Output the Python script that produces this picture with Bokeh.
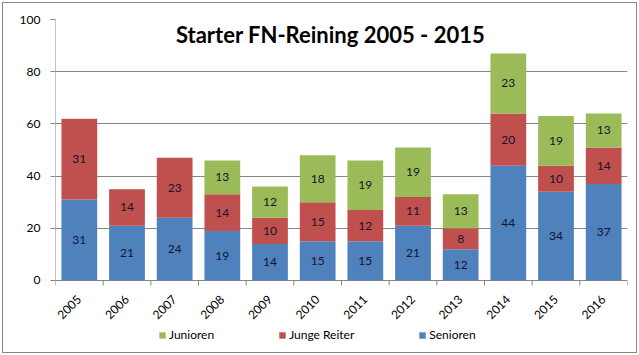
import math
from bokeh.plotting import figure
from bokeh.models import (ColumnDataSource, FactorRange, Range1d, FixedTicker,
                          Legend, LegendItem, Label)
from bokeh.core.properties import value
from bokeh.embed import file_html
from bokeh.resources import INLINE

# ---- data ----
years = ["2005", "2006", "2007", "2008", "2009", "2010", "2011", "2012", "2013", "2014", "2015", "2016"]
senioren = [31, 21, 24, 19, 14, 15, 15, 21, 12, 44, 34, 37]
junge_reiter = [31, 14, 23, 14, 10, 15, 12, 11, 8, 20, 10, 14]
junioren = [0, 0, 0, 13, 12, 18, 19, 19, 13, 23, 19, 13]
y_ticks = [0, 20, 40, 60, 80, 100]
title_text = "Starter FN-Reining 2005 - 2015"

FONT = "Lato"
GREY = "#868686"
BLUE = "#4F81BD"
RED = "#C0504D"
GREEN = "#9BBB59"

src = ColumnDataSource(dict(years=years, senioren=senioren, junge_reiter=junge_reiter, junioren=junioren))

# the frame extends below 0 so that the category labels and legend sit inside it
p = figure(frame_width=572, frame_height=333, x_range=FactorRange(*years), y_range=Range1d(-27.59, 100),
           output_backend="svg", toolbar_location=None, x_axis_location=None,
           min_border_left=52, min_border_right=9, min_border_top=16, min_border_bottom=0)
p.styles = {"border": f"1px solid {GREY}", "margin-left": "2px", "margin-top": "2px"}
p.outline_line_color = None
p.background_fill_color = "white"
p.border_fill_color = "white"

# y axis (line drawn separately so it stops at 0)
ya = p.yaxis[0]
ya.ticker = FixedTicker(ticks=y_ticks)
ya.axis_line_color = None
ya.major_tick_line_color = GREY
ya.major_tick_in = 0
ya.major_tick_out = 5
ya.minor_tick_line_color = None
ya.major_label_text_font = FONT
ya.major_label_text_font_size = "12px"
ya.major_label_text_color = "black"
ya.major_label_standoff = 10
p.ygrid.grid_line_color = GREY
p.ygrid.ticker = FixedTicker(ticks=y_ticks)
for g in p.xgrid:
    g.visible = False

n = len(years)
bounds = list(range(n + 1))
p.segment(x0=[0], y0=[0], x1=[0], y1=[y_ticks[-1]], line_color=GREY, line_width=1)
p.segment(x0=bounds, y0=0, x1=bounds, y1=-1.9, line_color=GREY, line_width=1)

# bars
rs = p.vbar_stack(["senioren", "junge_reiter", "junioren"], x="years", width=0.75,
                  color=[BLUE, RED, GREEN], line_color=None, source=src)

# category labels (rotated)
p.text(x=years, y=-6.5, text=years, angle=math.pi / 4, text_align="right",
       text_baseline="middle", text_font=value(FONT), text_font_size="12px",
       text_color="black")

# value labels
lx, ly, lt = [], [], []
for i, y in enumerate(years):
    base = 0
    for v in (senioren[i], junge_reiter[i], junioren[i]):
        if v > 0:
            lx.append(y)
            ly.append(base + v / 2)
            lt.append(str(v))
        base += v
p.text(x="x", y="y", text="t", source=ColumnDataSource(dict(x=lx, y=ly, t=lt)),
       text_align="center", text_baseline="middle", text_font=value(FONT),
       text_font_size="12px", text_color="#14142b")

# title
p.add_layout(Label(x=5.77, y=94.3, text=title_text, text_font=FONT,
                   text_font_size="22px", text_font_style="bold", text_color="black",
                   text_align="center", text_baseline="middle"))

# legend
legend = Legend(items=[LegendItem(label="Junioren", renderers=[rs[2]]),
                       LegendItem(label="Junge Reiter", renderers=[rs[1]]),
                       LegendItem(label="Senioren", renderers=[rs[0]])],
                orientation="horizontal", location=(103, 10), padding=0, margin=0,
                spacing=64, glyph_width=8, glyph_height=8, label_standoff=3,
                label_height=12, label_text_font=FONT, label_text_font_size="12px",
                label_text_color="black", border_line_color=None, background_fill_alpha=0)
p.add_layout(legend)

open("out.html", "w").write(file_html(p, INLINE))
